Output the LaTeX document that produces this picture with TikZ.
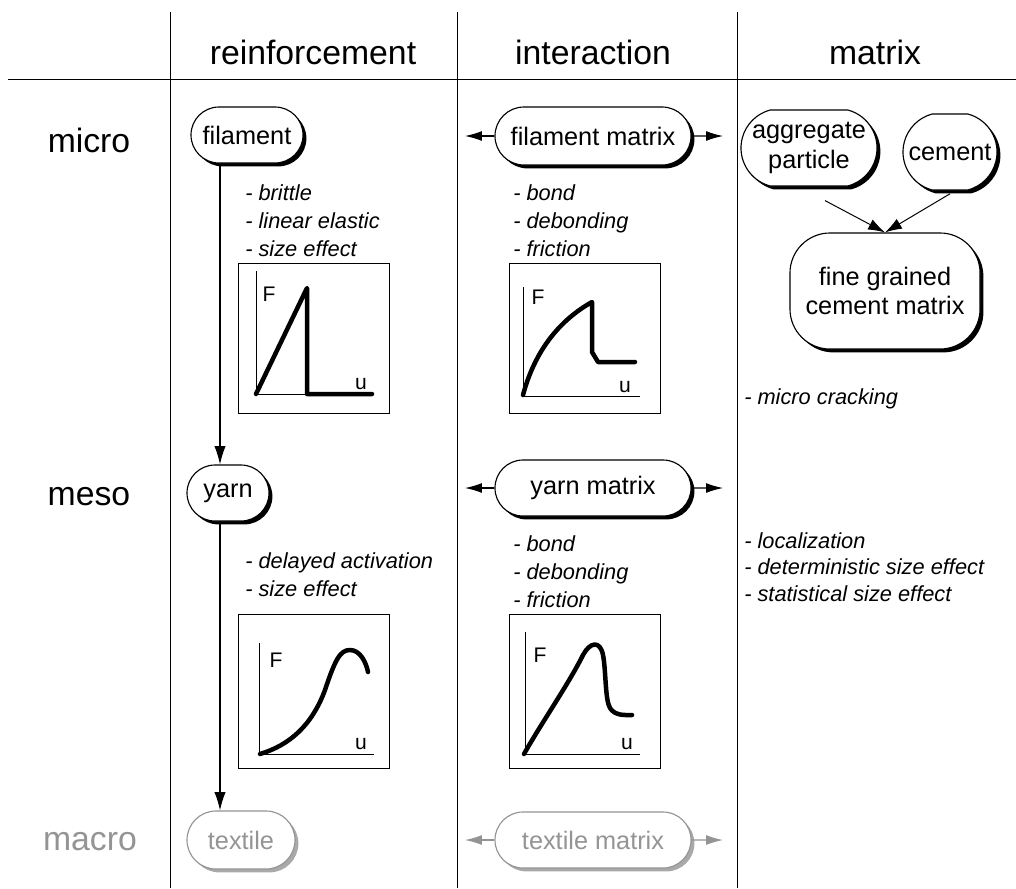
\documentclass[tikz,border=0pt]{standalone}
\usepackage{fontspec}
\setmainfont{Liberation Sans}
\usetikzlibrary{shapes,arrows.meta,shadows,positioning}
\definecolor{faded}{gray}{0.58}
\tikzset{
	head/.style={font=\fontsize{24}{28}\selectfont, anchor=base, inner sep=0pt},
	box/.style={draw, line width=0.8pt, fill=white, align=center, inner sep=0pt, rounded rectangle,
		font=\fontsize{18}{21}\selectfont},
	solid box/.style={box, drop shadow={shadow xshift=2.4pt, shadow yshift=-2.4pt, fill=black, opacity=1}},
	faded box/.style={box, draw=faded, text=faded, drop shadow={shadow xshift=2.4pt, shadow yshift=-2.4pt, fill=faded!80, opacity=1}},
	props/.style={font=\fontsize{15.5}{20}\selectfont\itshape, align=left, anchor=west, inner sep=0pt},
	axis label/.style={font=\fontsize{15}{15}\selectfont, inner sep=0pt},
	law/.style={line width=3.2pt, line cap=round, line join=round},
	arr/.style={-{Latex[length=13pt,width=8pt]}, line width=0.8pt},
	side arr/.style={-{Latex[length=12pt,width=7pt]}, line width=0.8pt},
	join arr/.style={-{Latex[length=12pt,width=8pt]}, line width=0.7pt},
}
\begin{document}
\begin{tikzpicture}[x=0.025cm, y=-0.025cm]
	\useasboundingbox (0,0) rectangle (1016,888);
	\draw[line width=0.7pt] (8,79) -- (1016,79);
	\foreach \x in {170,457,737} \draw[line width=0.7pt] (\x,12) -- (\x,888);
	\node[head] (reinf) at (313,64) {reinforcement};
	\node[head] (inter) at (593,64) {interaction};
	\node[head] (matr) at (875,64) {matrix};
	\node[head] (micro) at (89,152) {micro};
	\node[head] (meso) at (89,505) {meso};
	\node[head, text=faded] (macro) at (90,850) {macro};
	% reinforcement
	\coordinate (spine) at (220,0);
	\node[solid box, minimum width=2.8cm, minimum height=1.4cm] (filament) at (247,135) {filament};
	\node[solid box, minimum width=2.05cm, minimum height=1.4cm] (yarn) at (228,493) {yarn};
	\node[faded box, minimum width=2.7cm, minimum height=1.45cm] (textile) at (241,840) {textile};
	\draw[arr] (filament.south -| spine) -- (yarn.north -| spine);
	\draw[arr] (yarn.south -| spine) -- (textile.north -| spine);
	\node[props] (filprops) at (245,221) {- brittle\\- linear elastic\\- size effect};
	\draw[line width=0.7pt] (238,263) rectangle (389,413);
	\draw[line width=0.7pt] (256,271) -- (256,394) -- (373,394);
	\node[axis label] (F1) at (269,294) {F};
	\node[axis label] (u1) at (361,384) {u};
	\draw[law] (256,394) -- (307,288) -- (307,394) -- (372,394);
	\node[props] (yarnprops) at (245,575) {- delayed activation\\- size effect};
	\draw[line width=0.7pt] (238,614) rectangle (389,768);
	\draw[line width=0.7pt] (259,643) -- (259,754) -- (374,754);
	\node[axis label] (F3) at (276,660) {F};
	\node[axis label] (u3) at (361,744) {u};
	\draw[law] (260,754) .. controls (290,745) and (312,725) .. (325,690)
		.. controls (335,660) and (340,650) .. (350,650)
		.. controls (360,650) and (366,662) .. (368,672);
	% interaction
	\node[solid box, minimum width=4.9cm, minimum height=1.45cm] (fmatrix) at (593,136) {filament matrix};
	\node[solid box, minimum width=4.9cm, minimum height=1.4cm] (ymatrix) at (593,488) {yarn matrix};
	\node[faded box, minimum width=4.9cm, minimum height=1.4cm] (tmatrix) at (593,840) {textile matrix};
	\coordinate (fmL) at (465,136);
	\coordinate (fmR) at (723,136);
	\coordinate (ymL) at (465,488);
	\coordinate (ymR) at (723,488);
	\coordinate (tmL) at (465,840);
	\coordinate (tmR) at (723,840);
	\draw[side arr] (fmatrix) -- (fmL);
	\draw[side arr] (fmatrix) -- (fmR);
	\draw[side arr] (ymatrix) -- (ymL);
	\draw[side arr] (ymatrix) -- (ymR);
	\draw[side arr, faded] (tmatrix) -- (tmL);
	\draw[side arr, faded] (tmatrix) -- (tmR);
	\node[props] (fmprops) at (513,221) {- bond\\- debonding\\- friction};
	\draw[line width=0.7pt] (509,263) rectangle (660,413);
	\draw[line width=0.7pt] (523,287) -- (523,396) -- (640,396);
	\node[axis label] (F2) at (538,297) {F};
	\node[axis label] (u2) at (625,387) {u};
	\draw[law] (523,395) .. controls (535,350) and (560,320) .. (592,302)
		-- (592,352) -- (598,362) -- (635,362);
	\node[props] (ymprops) at (513,572) {- bond\\- debonding\\- friction};
	\draw[line width=0.7pt] (509,614) rectangle (660,768);
	\draw[line width=0.7pt] (525,632) -- (525,754) -- (640,754);
	\node[axis label] (F4) at (540,655) {F};
	\node[axis label] (u4) at (627,744) {u};
	\draw[law] (524,754) .. controls (542,722) and (568,685) .. (583,655)
		.. controls (590,642) and (600,640) .. (603,655)
		.. controls (606,670) and (605,700) .. (610,708)
		.. controls (615,716) and (625,715) .. (632,715);
	% matrix
	\node[solid box, minimum width=3.4cm, minimum height=1.9cm, rounded rectangle arc length=150] (aggregate) at (809,148) {aggregate\\particle};
	\node[solid box, minimum width=2.35cm, minimum height=1.9cm, rounded rectangle arc length=150] (cement) at (950,152) {cement};
	\node[solid box, rectangle, rounded corners=1cm, minimum width=4.75cm, minimum height=2.9cm] (fine) at (885,291) {fine grained\\cement matrix};
	\draw[join arr] ([xshift=0.4cm, yshift=-0.35cm]aggregate.south) -- (fine.north);
	\draw[join arr] ([yshift=-0.08cm]cement.south) -- (fine.north);
	\node[props] (mprops1) at (744,399) {- micro cracking};
	\node[props, font=\fontsize{15.5}{19}\selectfont\itshape] (mprops2) at (744,567) {- localization\\- deterministic size effect\\- statistical size effect};
\end{tikzpicture}
\end{document}
